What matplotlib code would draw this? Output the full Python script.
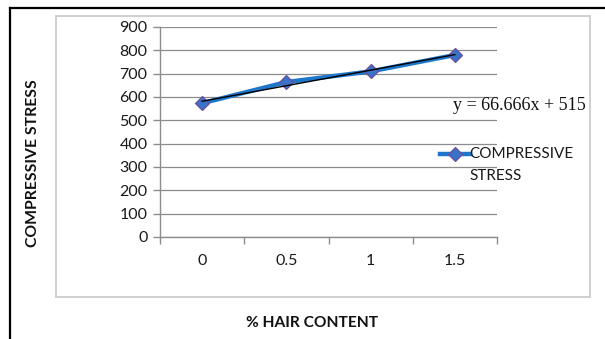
import matplotlib
matplotlib.use("Agg")
import matplotlib.pyplot as plt
from matplotlib.lines import Line2D
from matplotlib.patches import Rectangle

hair_content = ["0", "0.5", "1", "1.5"]
compressive_stress = [573.3, 664.0, 709.7, 780.0]
trend_slope = 66.666
trend_intercept = 515
y_ticks = [0, 100, 200, 300, 400, 500, 600, 700, 800, 900]

W, H = 605, 339
plt.rcParams["font.family"] = ["Lato", "DejaVu Sans"]

fig = plt.figure(figsize=(W / 100, H / 100), dpi=100)


def fx(px):
    return px / W


def fy(py):
    return 1 - py / H


# page frame (black) and chart frame (light grey)
fig.add_artist(Line2D([fx(10), fx(10)], [fy(8), 0], color="black", lw=1.6))
fig.add_artist(Line2D([fx(10), 1], [fy(8), fy(8)], color="black", lw=1.6))
fig.add_artist(Rectangle((fx(56), fy(297)), fx(590) - fx(56), fy(16) - fy(297),
                         transform=fig.transFigure, fill=False,
                         edgecolor="#cfcfcf", lw=1.4))

ax = fig.add_axes([fx(160), fy(237), fx(497) - fx(160), fy(27) - fy(237)])
pos = list(range(len(hair_content)))

marker_style = dict(marker="D", markersize=7, markerfacecolor="#3a72c8",
                    markeredgecolor="#6a4f9e", markeredgewidth=0.9)

ax.plot(pos, compressive_stress, color="#1f77cc", lw=3.2, zorder=3,
        **marker_style)

# linear trendline over category index 1..n
tx = [pos[0], pos[-1]]
ty = [trend_slope * (p + 1) + trend_intercept for p in tx]
ax.plot(tx, ty, color="black", lw=1.0, zorder=4)

ax.set_xlim(-0.5, len(hair_content) - 0.5)
ax.set_ylim(0, 900)
ax.set_yticks(y_ticks)
ax.set_xticks([p - 0.5 for p in pos] + [pos[-1] + 0.5])
ax.set_xticklabels([])
ax.set_xticks(pos, minor=True)
ax.set_xticklabels(hair_content, minor=True)
ax.tick_params(axis="x", which="major", length=5, color="#8c8c8c", width=1)
ax.tick_params(axis="x", which="minor", length=0, pad=12,
               labelsize=11.5, labelcolor="#1a1a1a")
ax.tick_params(axis="y", length=5, color="#8c8c8c", width=1,
               labelsize=11.5, labelcolor="#1a1a1a", pad=4)
ax.grid(axis="y", color="#8c8c8c", lw=0.9)
ax.set_axisbelow(True)
for side in ("top", "right"):
    ax.spines[side].set_visible(False)
for side in ("left", "bottom"):
    ax.spines[side].set_color("#8c8c8c")
    ax.spines[side].set_linewidth(1)

fig.text(fx(33), fy(163), "COMPRESSIVE STRESS", rotation=90, ha="center",
         va="center", fontsize=11.3, fontweight="bold", color="#111111")
fig.text(fx(312), fy(323), "% HAIR CONTENT", ha="center", va="center",
         fontsize=11.2, fontweight="bold", color="#111111")

fig.text(fx(519), fy(106), f"y = {trend_slope}x + {trend_intercept}",
         ha="center", va="center", fontsize=13,
         family=["Liberation Serif", "DejaVu Serif"], color="#111111")

# legend entry
fig.add_artist(Line2D([fx(440), fx(455), fx(470)], [fy(154)] * 3,
                      color="#1f77cc", lw=3.2, markevery=[1], **marker_style))
fig.text(fx(469), fy(154), "COMPRESSIVE", ha="left", va="center",
         fontsize=11, color="#1a1a1a")
fig.text(fx(469), fy(176), "STRESS", ha="left", va="center",
         fontsize=11, color="#1a1a1a")

fig.savefig("out.png", dpi=100)
